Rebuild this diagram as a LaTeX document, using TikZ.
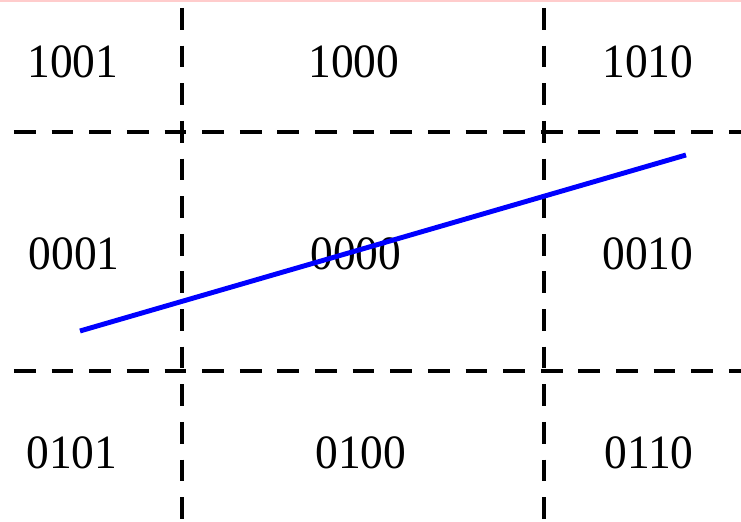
\documentclass[tikz,border=0pt]{standalone}
\usepackage{fontspec}
\setmainfont{Liberation Serif}
\usetikzlibrary{positioning,calc}
\definecolor{segblue}{HTML}{0000FF}
\definecolor{edgepink}{HTML}{FFCCCC}
\tikzset{
  gridline/.style={black, line width=1.25pt, dash pattern=on 6.2pt off 4.5pt},
  codelabel/.style={font=\fontsize{13.6}{16}\selectfont, inner sep=0pt, xscale=0.95},
}
\begin{document}
\begin{tikzpicture}[x=0.01cm, y=-0.01cm]
        \useasboundingbox (0,0) rectangle (741,522);
        \draw[edgepink, line width=0.5pt] (0,0.8) -- (741,0.8);
        % window edges
        \foreach \x in {182,544}
          \draw[gridline] (\x,8) -- (\x,522);
        \foreach \y in {132,371}
          \draw[gridline] (14,\y) -- (741,\y);
        % region codes
        \node[codelabel] (c1001) at (73,62) {1001};
        \node[codelabel] (c1000) at (354,62) {1000};
        \node[codelabel] (c1010) at (648,62) {1010};
        \node[codelabel] (c0001) at (74,254) {0001};
        \node[codelabel] (c0000) at (356,254) {0000};
        \node[codelabel] (c0010) at (648,254) {0010};
        \node[codelabel] (c0101) at (72,453) {0101};
        \node[codelabel] (c0100) at (361,453) {0100};
        \node[codelabel] (c0110) at (649,453) {0110};
        % clipped segment
        \coordinate (p1) at (80,331);
        \coordinate (p2) at (686,155);
        \draw[segblue, line width=1.4pt] (p1) -- (p2);
      \end{tikzpicture}
\end{document}
